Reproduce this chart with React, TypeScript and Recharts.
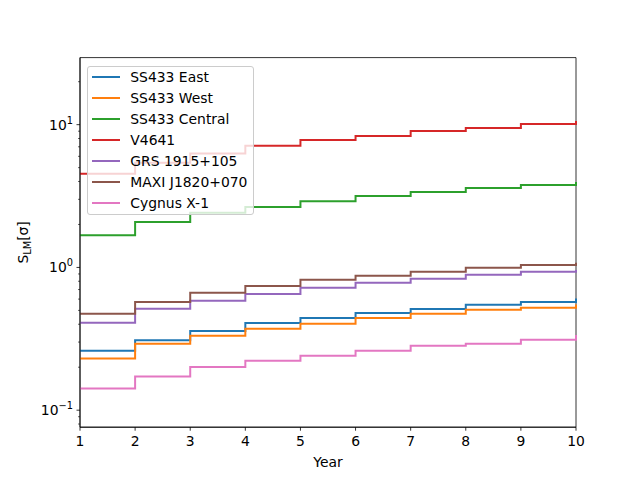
import React from 'react';
import { LineChart, Line, XAxis, YAxis, Legend, ReferenceArea } from 'recharts';

// values (log scale), one per year, drawn as steps
const YEARS = [1, 2, 3, 4, 5, 6, 7, 8, 9, 10];
const SS433_EAST = [0.261, 0.309, 0.359, 0.408, 0.443, 0.479, 0.511, 0.548, 0.572, 0.607];
const SS433_WEST = [0.23, 0.292, 0.332, 0.372, 0.403, 0.442, 0.474, 0.505, 0.522, 0.551];
const SS433_CENTRAL = [1.68, 2.08, 2.42, 2.65, 2.91, 3.17, 3.38, 3.6, 3.78, 3.97];
const V4641 = [4.53, 5.42, 6.27, 7.11, 7.8, 8.32, 9.02, 9.47, 10.09, 10.6];
const GRS_1915 = [0.41, 0.513, 0.584, 0.651, 0.72, 0.78, 0.832, 0.888, 0.932, 0.958];
const MAXI_J1820 = [0.474, 0.572, 0.664, 0.74, 0.819, 0.873, 0.932, 0.994, 1.04, 1.08];
const CYGNUS_X1 = [0.142, 0.172, 0.201, 0.222, 0.241, 0.261, 0.283, 0.292, 0.312, 0.336];

const Y_DOMAIN = [0.076, 29.5];
const Y_MAJOR = [0.1, 1, 10];
const Y_MINOR = [0.08, 0.09, 0.2, 0.3, 0.4, 0.5, 0.6, 0.7, 0.8, 0.9, 2, 3, 4, 5, 6, 7, 8, 9, 20];

const SERIES = [
  { key: 'east', name: 'SS433 East', color: '#1f77b4', values: SS433_EAST },
  { key: 'west', name: 'SS433 West', color: '#ff7f0e', values: SS433_WEST },
  { key: 'central', name: 'SS433 Central', color: '#2ca02c', values: SS433_CENTRAL },
  { key: 'v4641', name: 'V4641', color: '#d62728', values: V4641 },
  { key: 'grs', name: 'GRS 1915+105', color: '#9467bd', values: GRS_1915 },
  { key: 'maxi', name: 'MAXI J1820+070', color: '#8c564b', values: MAXI_J1820 },
  { key: 'cyg', name: 'Cygnus X-1', color: '#e377c2', values: CYGNUS_X1 },
];

const data = YEARS.map((year, i) => {
  const row: any = { year };
  SERIES.forEach((s) => (row[s.key] = s.values[i]));
  return row;
});

const FONT = '"DejaVu Sans", sans-serif';
const FS = 13.9;

const W = 640;
const H = 480;
const PLOT_LEFT = 80;
const PLOT_RIGHT = 576;
const PLOT_TOP = 57.6;
const PLOT_BOTTOM = 427.2;

const XTick = (props: any) => {
  const { x, y, payload } = props;
  return (
    <g>
      <line x1={x} x2={x} y1={y} y2={y + 3.5} stroke="#000" strokeWidth={0.8} />
      <text x={x} y={y + 19} textAnchor="middle" fontFamily={FONT} fontSize={FS} fill="#000">
        {payload.value}
      </text>
    </g>
  );
};

const YTick = (props: any) => {
  const { x, y, payload } = props;
  const v = payload.value;
  const major = Y_MAJOR.some((m) => Math.abs(m - v) < 1e-9);
  const exp = Math.round(Math.log10(v));
  return (
    <g>
      <line x1={x - (major ? 3.5 : 2)} x2={x} y1={y} y2={y} stroke="#000" strokeWidth={major ? 0.8 : 0.6} />
      {major && (
        <text x={x - 7} y={y + 5} textAnchor="end" fontFamily={FONT} fontSize={FS} fill="#000">
          10
          <tspan dy={-6} fontSize={9.8}>
            {exp < 0 ? '\u2212' + Math.abs(exp) : String(exp)}
          </tspan>
        </text>
      )}
    </g>
  );
};

// keep the plotting order (Recharts would sort the payload by name)
const renderLegend = () => (
  <div
    style={{
      width: 167,
      height: 149,
      boxSizing: 'border-box',
      border: '1px solid #cccccc',
      borderRadius: 3,
      background: 'rgba(255,255,255,0.8)',
      fontFamily: FONT,
      fontSize: FS,
      color: '#000',
    }}
  >
    {SERIES.map((s) => (
      <div key={s.key} style={{ height: 21, display: 'flex', alignItems: 'center' }}>
        <div style={{ width: 28, height: 2, background: s.color, marginLeft: 4, marginRight: 10 }} />
        <span style={{ whiteSpace: 'nowrap' }}>{s.name}</span>
      </div>
    ))}
  </div>
);

const xLabel = () => (
  <text x={(PLOT_LEFT + PLOT_RIGHT) / 2} y={467} textAnchor="middle" fontFamily={FONT} fontSize={FS} fill="#000">
    Year
  </text>
);

const yLabel = () => {
  const cx = 28;
  const cy = (PLOT_TOP + PLOT_BOTTOM) / 2;
  return (
    <text
      x={cx}
      y={cy}
      transform={`rotate(-90, ${cx}, ${cy})`}
      textAnchor="middle"
      fontFamily={FONT}
      fontSize={FS}
      fill="#000"
    >
      S
      <tspan dy={3} fontSize={9.8}>LM</tspan>
      <tspan dy={-3}>[σ]</tspan>
    </text>
  );
};

export default function App() {
  return (
    <div style={{ position: 'absolute', left: 0, top: 0, background: '#fff' }}>
      <LineChart
        width={W}
        height={H}
        data={data}
        margin={{ top: PLOT_TOP, right: W - PLOT_RIGHT, left: PLOT_LEFT - 60, bottom: H - PLOT_BOTTOM - 30 }}
      >
        <XAxis
          dataKey="year"
          type="number"
          domain={[1, 10]}
          ticks={YEARS}
          interval={0}
          height={30}
          tickSize={0}
          tickMargin={0}
          tickLine={false}
          tick={<XTick />}
          axisLine={{ stroke: '#000', strokeWidth: 0.8 }}
          label={xLabel}
        />
        <YAxis
          scale="log"
          type="number"
          domain={Y_DOMAIN}
          allowDataOverflow
          ticks={[...Y_MINOR, ...Y_MAJOR].sort((a, b) => a - b)}
          interval={0}
          width={60}
          tickSize={0}
          tickMargin={0}
          tickLine={false}
          tick={<YTick />}
          axisLine={{ stroke: '#000', strokeWidth: 0.8 }}
          label={yLabel}
        />
        {SERIES.map((s) => (
          <Line
            key={s.key}
            type="stepAfter"
            dataKey={s.key}
            name={s.name}
            stroke={s.color}
            strokeWidth={2}
            dot={false}
            activeDot={false}
            isAnimationActive={false}
          />
        ))}
        {/* axes frame (top and right spines) */}
        <ReferenceArea
          x1={1}
          x2={10}
          y1={Y_DOMAIN[0]}
          y2={Y_DOMAIN[1]}
          fill="none"
          fillOpacity={0}
          stroke="#000"
          strokeWidth={0.8}
          ifOverflow="visible"
        />
        <Legend
          layout="vertical"
          align="center"
          verticalAlign="middle"
          content={renderLegend}
          wrapperStyle={{ top: 65.7, left: 87.3, width: 'auto', height: 'auto' }}
        />
      </LineChart>
    </div>
  );
}
